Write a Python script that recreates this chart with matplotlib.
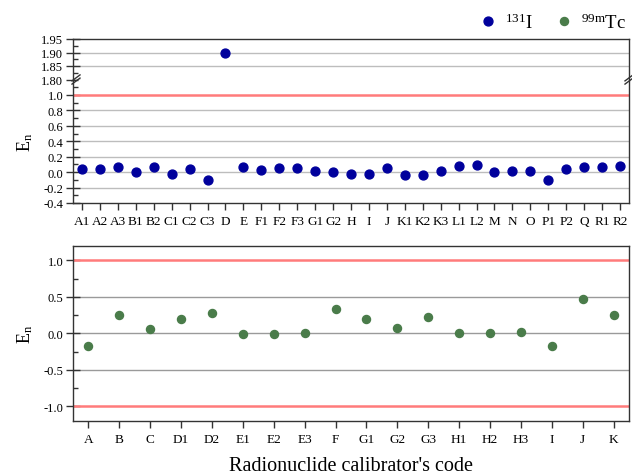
import matplotlib
matplotlib.use("Agg")
import matplotlib.pyplot as plt
from matplotlib.ticker import MultipleLocator, FixedLocator
import numpy as np

plt.rcParams['font.family'] = ['Liberation Serif', 'DejaVu Serif']
plt.rcParams['mathtext.fontset'] = 'custom'
plt.rcParams['mathtext.rm'] = 'Liberation Serif'
plt.rcParams['mathtext.it'] = 'Liberation Serif:italic'

# ---- data ----
codes_i131 = ['A1', 'A2', 'A3', 'B1', 'B2', 'C1', 'C2', 'C3', 'D', 'E', 'F1', 'F2', 'F3',
              'G1', 'G2', 'H', 'I', 'J', 'K1', 'K2', 'K3', 'L1', 'L2', 'M', 'N', 'O',
              'P1', 'P2', 'Q', 'R1', 'R2']
en_i131 = [0.04, 0.04, 0.06, 0.00, 0.07, -0.03, 0.04, -0.10, 1.90, 0.06, 0.03, 0.05, 0.055,
           0.01, 0.00, -0.02, -0.03, 0.055, -0.04, -0.035, 0.015, 0.08, 0.095, 0.00, 0.015, 0.01,
           -0.10, 0.04, 0.07, 0.07, 0.08]

codes_tc99m = ['A', 'B', 'C', 'D1', 'D2', 'E1', 'E2', 'E3', 'F', 'G1', 'G2', 'G3',
               'H1', 'H2', 'H3', 'I', 'J', 'K']
en_tc99m = [-0.18, 0.25, 0.065, 0.20, 0.275, -0.005, -0.005, 0.01, 0.34, 0.19, 0.07, 0.22,
            0.01, 0.005, 0.02, -0.18, 0.47, 0.25]

limit_lines = [1.0, -1.0]

blue = '#00009c'
green = '#4a7c4a'
red = '#ff7b7b'
frame = '#333333'

W, H = 632, 477
fig = plt.figure(figsize=(W / 100, H / 100), dpi=100)

def box(x0, y0, x1, y1):
    return [x0 / W, 1 - y1 / H, (x1 - x0) / W, (y1 - y0) / H]

ax_up = fig.add_axes(box(73, 40, 629, 80.5))
ax_lo = fig.add_axes(box(73, 80.5, 629, 204))
ax_b = fig.add_axes(box(73, 246.7, 629, 422))

x1 = np.arange(len(codes_i131))
x2 = np.arange(len(codes_tc99m))

for ax in (ax_up, ax_lo, ax_b):
    for s in ax.spines.values():
        s.set_color(frame)
        s.set_linewidth(1.0)
    ax.tick_params(axis='y', which='major', direction='inout', length=10, width=1.0,
                   color=frame, labelsize=9, pad=2)
    ax.tick_params(axis='y', which='minor', direction='in', length=3.5, width=1.0, color=frame)
    ax.tick_params(axis='x', which='major', direction='out', length=5, width=1.0,
                   color=frame, labelsize=9.5, pad=3.5)
    ax.tick_params(top=False, right=False)

# top panel, upper segment
ax_up.set_xlim(-0.5, len(codes_i131) - 0.5)
ax_up.set_ylim(1.80, 1.95)
ax_up.yaxis.set_major_locator(FixedLocator([1.80, 1.85, 1.90, 1.95]))
ax_up.yaxis.set_minor_locator(MultipleLocator(0.025))
ax_up.set_yticklabels(['1.80', '1.85', '1.90', '1.95'])
ax_up.set_xticks([])
ax_up.spines['bottom'].set_visible(False)
for v in [1.85, 1.90]:
    ax_up.axhline(v, color='#bdbdbd', lw=1.0, zorder=1)
ax_up.plot(x1, en_i131, 'o', color=blue, ms=6.4, zorder=3, label=r'$^{131}$I')

# top panel, lower segment
ax_lo.set_xlim(-0.5, len(codes_i131) - 0.5)
ax_lo.set_ylim(-0.4, 1.2)
ax_lo.yaxis.set_major_locator(FixedLocator([-0.4, -0.2, 0.0, 0.2, 0.4, 0.6, 0.8, 1.0]))
ax_lo.yaxis.set_minor_locator(MultipleLocator(0.1))
ax_lo.set_yticklabels(['-0.4', '-0.2', '0.0', '0.2', '0.4', '0.6', '0.8', '1.0'])
ax_lo.spines['top'].set_visible(False)
for v in [-0.2, 0.0, 0.2, 0.4, 0.6, 0.8]:
    ax_lo.axhline(v, color='#bdbdbd', lw=1.0, zorder=1)
ax_lo.axhline(limit_lines[0], color=red, lw=1.8, zorder=2)
ax_lo.plot(x1, en_i131, 'o', color=blue, ms=6.4, zorder=3)
ax_lo.set_xticks(x1)
ax_lo.set_xticklabels(codes_i131)
ax_lo.set_ylabel(r'E$_\mathrm{n}$', fontsize=13, labelpad=6)

# break marks
def brk(xf, yf):
    dx, dy = 4, 3
    for off in (-1.6, 1.6):
        fig.add_artist(plt.Line2D([(xf - dx) / W, (xf + dx) / W],
                                  [1 - (yf + off + dy) / H, 1 - (yf + off - dy) / H],
                                  color=frame, lw=1.0))
brk(76, 80.5)
brk(629, 80.5)

# bottom panel
ax_b.set_xlim(-0.5, len(codes_tc99m) - 0.5)
ax_b.set_ylim(-1.2, 1.2)
ax_b.yaxis.set_major_locator(FixedLocator([-1.0, -0.5, 0.0, 0.5, 1.0]))
ax_b.yaxis.set_minor_locator(MultipleLocator(0.25))
ax_b.set_yticklabels(['-1.0', '-0.5', '0.0', '0.5', '1.0'])
for v in [-0.5, 0.0, 0.5]:
    ax_b.axhline(v, color='#9a9a9a', lw=1.0, zorder=1)
for v in limit_lines:
    ax_b.axhline(v, color=red, lw=1.8, zorder=2)
ax_b.plot(x2, en_tc99m, 'o', color=green, ms=5.8, zorder=3, label=r'$^{99\mathrm{m}}$Tc')
ax_b.set_xticks(x2)
ax_b.set_xticklabels(codes_tc99m)
ax_b.set_ylabel(r'E$_\mathrm{n}$', fontsize=13, labelpad=6)
ax_b.set_xlabel("Radionuclide calibrator's code", fontsize=14.5, labelpad=8)

h1, l1 = ax_up.get_legend_handles_labels()
h2, l2 = ax_b.get_legend_handles_labels()
fig.legend(h1 + h2, l1 + l2, ncol=2, loc='upper right', bbox_to_anchor=(1.012, 1.0),
           frameon=False, fontsize=13.5, handletextpad=0.3, columnspacing=1.1,
           handlelength=1.2, borderaxespad=0.3)

fig.savefig('out.png', dpi=100)
